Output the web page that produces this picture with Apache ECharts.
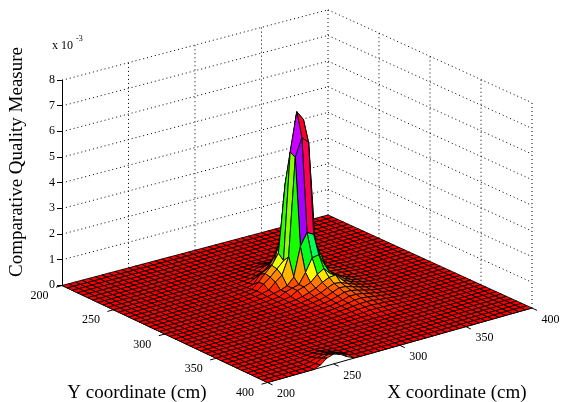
<!DOCTYPE html>
<html><head><meta charset="utf-8">
<style>html,body{margin:0;padding:0;background:#fff}#c{width:561px;height:402px}</style>
<script src="https://cdn.jsdelivr.net/npm/echarts@6/dist/echarts.min.js"></script>
</head><body><div id="c"></div>
<script>
// ---------- data (z values in units of 1e-3) ----------
const xTicks = [200, 250, 300, 350, 400];
const yTicks = [200, 250, 300, 350, 400];
const zTicks = [0, 1, 2, 3, 4, 5, 6, 7, 8];
const gridStep = 5; // cm between surface samples
// main peak: rows Y = 240..350 step 5, columns X = 275..355 step 5
const peakFirstY = 240, peakFirstX = 275;
const peakValues = [
 [0,0,0,0,0,0,.01,.01,.02,.01,.01,0,0,0,0,0,0],
 [0,0,0,0,.01,.02,.03,.05,.08,.05,.03,.02,.01,0,0,0,0],
 [0,0,0,.01,.02,.04,.07,.12,.18,.12,.07,.04,.02,.01,0,0,0],
 [0,0,.01,.02,.04,.07,.12,.25,.38,.25,.14,.08,.04,.02,.01,0,0],
 [0,.01,.02,.04,.07,.13,.18,.45,.7,.48,.27,.14,.07,.04,.02,.01,0],
 [.01,.02,.03,.06,.18,.34,.45,.85,1.25,.9,.5,.26,.13,.06,.03,.02,.01],
 [.02,.03,.05,.1,.42,.55,.7,1.5,2.3,1.6,.8,.42,.22,.1,.05,.03,.02],
 [.02,.04,.07,.28,.55,.8,1.2,3.8,5.2,4.4,1.4,.6,.3,.14,.07,.04,.02],
 [.03,.05,.1,.3,.5,.75,1.0,5.17,6.67,6.3,2.4,1.0,.2,.1,.08,.05,.03],
 [.03,.05,.09,.16,.4,.6,1.25,5.05,5.75,5.5,1.5,.9,.2,.1,.08,.05,.03],
 [.02,.04,.07,.12,.18,.28,.55,1.67,2.15,2.0,1.0,.5,.25,.1,.08,.04,.02],
 [.02,.03,.05,.08,.2,.28,.35,.75,1.25,1.3,.8,.42,.3,.16,.08,.04,.02],
 [.01,.02,.04,.07,.12,.28,.35,.45,.7,.85,.58,.47,.26,.15,.08,.04,.02],
 [.01,.02,.03,.05,.08,.14,.22,.32,.48,.6,.63,.36,.24,.14,.08,.04,.02],
 [0,.01,.02,.04,.06,.1,.16,.24,.36,.46,.42,.32,.22,.14,.08,.04,.02],
 [0,.01,.02,.03,.05,.08,.12,.18,.28,.38,.36,.28,.2,.13,.07,.04,.02],
 [0,0,.01,.02,.04,.06,.09,.14,.22,.3,.3,.24,.17,.11,.06,.03,.01],
 [0,0,.01,.02,.03,.05,.07,.11,.17,.24,.24,.2,.14,.09,.05,.02,.01],
 [0,0,0,.01,.02,.04,.06,.09,.13,.18,.19,.16,.11,.07,.04,.02,0],
 [0,0,0,.01,.02,.03,.05,.07,.1,.13,.14,.12,.08,.05,.03,.01,0],
 [0,0,0,0,.01,.02,.03,.05,.07,.09,.1,.08,.06,.04,.02,.01,0],
 [0,0,0,0,.01,.01,.02,.03,.04,.06,.06,.05,.04,.02,.01,0,0],
 [0,0,0,0,0,.01,.01,.02,.02,.03,.03,.02,.02,.01,0,0,0]
];
// small bump at the front edge: rows Y = 375..400, columns X = 235..270
const bumpFirstY = 375, bumpFirstX = 235;
const bumpValues = [
 [0,0,.01,.02,.02,.01,0,0],
 [0,.01,.03,.05,.05,.03,.01,0],
 [0,.02,.06,.1,.1,.06,.02,0],
 [0,.04,.12,.18,.16,.1,.03,0],
 [0,.06,.2,.28,.25,.16,.05,0],
 [0,.1,.3,.38,.3,.14,.02,0]
];
// colour scale: surface height -> hue of the hsv colormap
const colourStopsZ = [0, .5, 1.25, 3.8, 5.2, 5.5, 6.67];
const colourStopsHue = [0, 32, 115, 185, 290, 338, 352];

// ---------- table built from the arrays ----------
const n = (400 - 200) / gridStep;
const Z = [];
for (let i = 0; i <= n; i++) { Z.push(new Array(n + 1).fill(0)); }
function put(values, y0, x0) {
  values.forEach((row, a) => row.forEach((v, b) => {
    Z[(y0 - 200) / gridStep + a][(x0 - 200) / gridStep + b] = v;
  }));
}
put(peakValues, peakFirstY, peakFirstX);
put(bumpValues, bumpFirstY, bumpFirstX);

// ---------- 3-D view ----------
const L = [62, 285.5], F = [267.5, 382.5], R = [532, 308], B = [328, 215];
const zUnit = 25.65;
function project(X, Y, z) {
  const v = (X - 200) / 200, u = (Y - 200) / 200;
  const w = [(1-u)*(1-v), u*(1-v), u*v, (1-u)*v];
  const px = w[0]*L[0] + w[1]*F[0] + w[2]*R[0] + w[3]*B[0];
  const py = w[0]*L[1] + w[1]*F[1] + w[2]*R[1] + w[3]*B[1];
  return [px, py - z * zUnit];
}
function hueOf(z) {
  for (let k = 1; k < colourStopsZ.length; k++) {
    if (z <= colourStopsZ[k]) {
      const t = (z - colourStopsZ[k-1]) / (colourStopsZ[k] - colourStopsZ[k-1]);
      return colourStopsHue[k-1] + t * (colourStopsHue[k] - colourStopsHue[k-1]);
    }
  }
  return colourStopsHue[colourStopsHue.length - 1];
}
function hsv(h) {
  h = h % 360;
  const x = 1 - Math.abs((h / 60) % 2 - 1);
  const t = [[1,x,0],[x,1,0],[0,1,x],[0,x,1],[x,0,1],[1,0,x]][Math.floor(h / 60)];
  return 'rgb(' + t.map(c => Math.round(c * 255)).join(',') + ')';
}

// walls
const wallSegments = [];
zTicks.slice(1).forEach(z => {
  wallSegments.push([200,200,z, 400,200,z]);
  wallSegments.push([400,200,z, 400,400,z]);
});
xTicks.slice(1).forEach(x => wallSegments.push([x,200,0, x,200,8]));
yTicks.slice(1).forEach(y => wallSegments.push([400,y,0, 400,y,8]));

// axes
const axisSegments = [[200,200,0, 200,400,0],[200,400,0, 400,400,0]];

// surface cells, far to near
const cells = [];
for (let i = 0; i < n; i++) for (let j = n - 1; j >= 0; j--) cells.push([i, j]);

const serif = 'Liberation Serif';
const segRender = (dash, width) => (p, api) => {
  const d = [0,1,2,3,4,5].map(k => api.value(k));
  const a = api.coord(project(d[0], d[1], d[2]));
  const b = api.coord(project(d[3], d[4], d[5]));
  return {type:'line', shape:{x1:a[0],y1:a[1],x2:b[0],y2:b[1]},
          style:{stroke:'#000', lineWidth:width, lineDash:dash, fill:null}};
};

const chart = echarts.init(document.getElementById('c'), null, {renderer:'canvas'});
chart.setOption({
  animation:false,
  backgroundColor:'#fff',
  grid:[
    {left:0, top:0, width:561, height:402},
    {left:62, top:80, width:1, height:205}
  ],
  xAxis:[
    {gridIndex:0, type:'value', min:0, max:561, show:false},
    {gridIndex:1, type:'value', min:0, max:1, show:false}
  ],
  yAxis:[
    {gridIndex:0, type:'value', min:0, max:402, inverse:true, show:false},
    {gridIndex:1, type:'value', min:0, max:8, interval:1, position:'left',
     axisLine:{show:true, onZero:false, lineStyle:{color:'#000', width:1}},
     axisTick:{show:true, inside:false, length:5, lineStyle:{color:'#000'}},
     axisLabel:{show:true, color:'#000', fontFamily:serif, fontSize:12, margin:7, hideOverlap:false},
     splitLine:{show:false}}
  ],
  series:[
    {type:'custom', xAxisIndex:0, yAxisIndex:0, clip:false, silent:true, z:1,
     data:wallSegments, encode:{x:0,y:1}, renderItem:segRender([1,3],1)},
    {type:'custom', xAxisIndex:0, yAxisIndex:0, clip:false, silent:true, z:2,
     data:axisSegments, encode:{x:0,y:1}, renderItem:segRender(null,1)},
    {type:'custom', xAxisIndex:0, yAxisIndex:0, clip:false, silent:true, z:2,
     data:yTicks.map(v => [v]), encode:{x:0},
     renderItem:(p, api) => {
       const a = api.coord(project(200, api.value(0), 0));
       const lab = api.coord([a[0] - 22.5, a[1] + 10.5]);
       return {type:'group', children:[
         {type:'line', shape:{x1:a[0],y1:a[1],x2:a[0]-6,y2:a[1]+1.7}, style:{stroke:'#000',lineWidth:1}},
         {type:'text', x:lab[0], y:lab[1], style:{text:String(api.value(0)), fill:'#000', font:'12px "'+serif+'"', textAlign:'center', textVerticalAlign:'middle'}}
       ]};
     }},
    {type:'custom', xAxisIndex:0, yAxisIndex:0, clip:false, silent:true, z:2,
     data:xTicks.map(v => [v]), encode:{x:0},
     renderItem:(p, api) => {
       const a = api.coord(project(api.value(0), 400, 0));
       const lab = api.coord([a[0] + 18.5, a[1] + 11.5]);
       return {type:'group', children:[
         {type:'line', shape:{x1:a[0],y1:a[1],x2:a[0]+5,y2:a[1]+2.4}, style:{stroke:'#000',lineWidth:1}},
         {type:'text', x:lab[0], y:lab[1], style:{text:String(api.value(0)), fill:'#000', font:'12px "'+serif+'"', textAlign:'center', textVerticalAlign:'middle'}}
       ]};
     }},
    {type:'custom', xAxisIndex:0, yAxisIndex:0, clip:false, silent:true, z:3,
     progressive:0, data:cells, encode:{x:0,y:1},
     renderItem:(p, api) => {
       const i = api.value(0), j = api.value(1);
       const corners = [[i,j],[i,j+1],[i+1,j+1],[i+1,j]];
       const pts = corners.map(c => api.coord(project(200 + c[1]*gridStep, 200 + c[0]*gridStep, Z[c[0]][c[1]])));
       return {type:'polygon', shape:{points:pts},
               style:{fill:hsv(hueOf(Z[i][j])), stroke:'#000', lineWidth:.9}};
     }}
  ],
  graphic:[
    {type:'text', x:17, y:162, rotation:Math.PI/2, style:{text:'Comparative Quality Measure', fill:'#000', font:'19px "'+serif+'"', textAlign:'center', textVerticalAlign:'middle'}},
    {type:'text', x:137, y:393, style:{text:'Y coordinate (cm)', fill:'#000', font:'19px "'+serif+'"', textAlign:'center', textVerticalAlign:'middle'}},
    {type:'text', x:457, y:393, style:{text:'X coordinate (cm)', fill:'#000', font:'19px "'+serif+'"', textAlign:'center', textVerticalAlign:'middle'}},
    {type:'text', x:52, y:46, style:{text:'x 10', fill:'#000', font:'12px "'+serif+'"', textAlign:'left', textVerticalAlign:'middle'}},
    {type:'text', x:76, y:39, style:{text:'-3', fill:'#000', font:'8px "'+serif+'"', textAlign:'left', textVerticalAlign:'middle'}}
  ]
});
</script></body></html>
